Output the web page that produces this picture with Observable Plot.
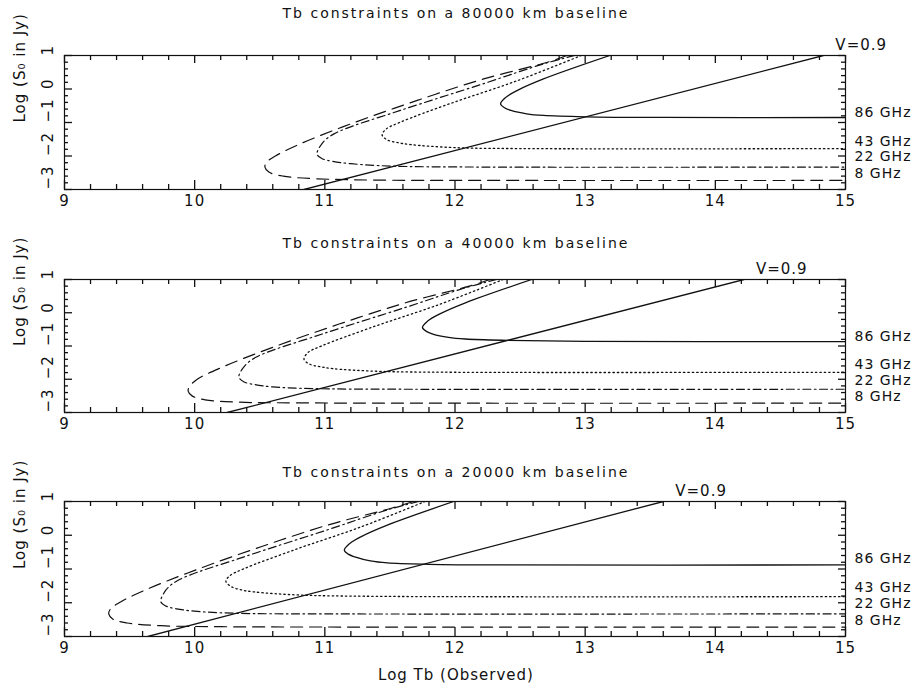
<!DOCTYPE html>
<html><head><meta charset="utf-8">
<script src="https://cdn.jsdelivr.net/npm/d3@7"></script>
<script src="https://cdn.jsdelivr.net/npm/@observablehq/plot@0.6"></script>
<style>
body{margin:0;background:#fff;}
#wrap{position:relative;width:922px;height:700px;font-family:"DejaVu Sans",sans-serif;color:#111;background:#fff;}
.ttl{position:absolute;left:0;width:912px;text-align:center;font-size:14px;letter-spacing:2px;line-height:16px;white-space:nowrap;}
.panel{position:absolute;left:0;}
</style></head><body><div id="wrap"></div>
<script>
const panelTitles = ["Tb constraints on a 80000 km baseline","Tb constraints on a 40000 km baseline","Tb constraints on a 20000 km baseline"];
const xLabel = "Log Tb (Observed)";
const yLabel = "Log (S\u2080 in Jy)";
const freqLabels = ["86 GHz","43 GHz","22 GHz","8 GHz"];
const freqLabelY = [-0.70,-1.56,-2.03,-2.53];
const vLabel = "V=0.9";
const xTicks = [9,10,11,12,13,14,15];
const yTicks = [-3,-2,-1,0,1];

const b80_v = [[10.84,-3.0],[14.83,1.0]];
const b80_86 = [[13.19,1.00],[12.68,0.30],[12.48,-0.04],[12.39,-0.25],[12.35,-0.44],[12.38,-0.56],[12.43,-0.64],[12.55,-0.74],[12.68,-0.79],[13.00,-0.83],[13.60,-0.85],[15.00,-0.85]];
const b80_43 = [[12.97,1.00],[12.48,0.25],[11.96,-0.44],[11.58,-0.99],[11.47,-1.20],[11.44,-1.37],[11.48,-1.52],[11.56,-1.60],[11.66,-1.66],[12.00,-1.75],[12.60,-1.78],[15.00,-1.78]];
const b80_22 = [[12.92,1.00],[12.68,0.75],[12.22,0.16],[11.58,-0.64],[11.07,-1.34],[10.98,-1.62],[10.94,-1.95],[10.98,-2.08],[11.06,-2.16],[11.20,-2.23],[11.50,-2.30],[12.20,-2.33],[15.00,-2.33]];
const b80_8 = [[12.86,1.00],[12.71,0.80],[12.22,0.30],[11.71,-0.34],[11.20,-1.04],[10.81,-1.64],[10.62,-2.00],[10.55,-2.20],[10.54,-2.33],[10.57,-2.48],[10.68,-2.60],[10.94,-2.68],[11.40,-2.72],[12.50,-2.73],[15.00,-2.73]];

const b40_v = [[10.25,-3.0],[14.22,1.0]];
const b40_86 = [[12.59,1.00],[12.08,0.30],[11.88,-0.04],[11.79,-0.25],[11.75,-0.44],[11.78,-0.56],[11.83,-0.64],[11.95,-0.74],[12.08,-0.79],[12.40,-0.83],[13.00,-0.86],[15.00,-0.87]];
const b40_43 = [[12.37,1.00],[11.88,0.25],[11.36,-0.44],[10.98,-0.99],[10.87,-1.20],[10.84,-1.40],[10.88,-1.54],[10.96,-1.62],[11.06,-1.68],[11.40,-1.76],[12.00,-1.79],[15.00,-1.79]];
const b40_22 = [[12.32,1.00],[12.08,0.75],[11.62,0.16],[10.98,-0.64],[10.47,-1.34],[10.38,-1.62],[10.34,-1.93],[10.38,-2.08],[10.46,-2.16],[10.60,-2.23],[10.90,-2.28],[11.60,-2.30],[15.00,-2.30]];
const b40_8 = [[12.27,1.00],[12.11,0.80],[11.62,0.30],[11.11,-0.34],[10.60,-1.04],[10.21,-1.64],[10.02,-2.00],[9.96,-2.22],[9.95,-2.36],[9.98,-2.50],[10.08,-2.62],[10.34,-2.69],[10.80,-2.71],[11.90,-2.72],[15.00,-2.72]];

const b20_v = [[9.64,-3.0],[13.60,1.0]];
const b20_86 = [[11.99,1.00],[11.48,0.30],[11.28,-0.04],[11.19,-0.25],[11.15,-0.44],[11.18,-0.56],[11.23,-0.64],[11.35,-0.76],[11.48,-0.82],[11.80,-0.86],[12.40,-0.88],[15.00,-0.88]];
const b20_43 = [[11.77,1.00],[11.28,0.25],[10.76,-0.44],[10.38,-0.99],[10.27,-1.20],[10.24,-1.37],[10.28,-1.52],[10.36,-1.62],[10.46,-1.68],[10.80,-1.77],[11.40,-1.81],[15.00,-1.82]];
const b20_22 = [[11.72,1.00],[11.48,0.75],[11.02,0.16],[10.38,-0.64],[9.87,-1.34],[9.78,-1.62],[9.74,-1.97],[9.78,-2.10],[9.86,-2.18],[10.00,-2.25],[10.30,-2.31],[11.00,-2.33],[15.00,-2.33]];
const b20_8 = [[11.68,1.00],[11.51,0.80],[11.02,0.30],[10.51,-0.34],[10.00,-1.04],[9.61,-1.64],[9.42,-2.00],[9.35,-2.20],[9.34,-2.33],[9.37,-2.48],[9.48,-2.60],[9.74,-2.68],[10.20,-2.71],[11.30,-2.72],[15.00,-2.72]];

const W = 922, ML = 64, MR = 77;
const X0 = 9, X1 = 15, Y0 = -3, Y1 = 1;
const layout = [
  {top:0,   height:228, mt:55, mb:39, titleY:5},
  {top:228, height:224, mt:51, mb:40, titleY:235},
  {top:452, height:248, mt:49, mb:64, titleY:464}
];
const panelData = [
  {v:b80_v, c86:b80_86, c43:b80_43, c22:b80_22, c8:b80_8},
  {v:b40_v, c86:b40_86, c43:b40_43, c22:b40_22, c8:b40_8},
  {v:b20_v, c86:b20_86, c43:b20_43, c22:b20_22, c8:b20_8}
];
const styles = {
  c86:{dash:null, w:1.3},
  c43:{dash:"1.4,3", w:1.3},
  c22:{dash:"8,3.5,1.6,3.5", w:1.2},
  c8:{dash:"12,7", w:1.2}
};

const minorX = d3.range(9, 15.001, 0.2).filter(v => Math.abs(v - Math.round(v)) > 0.01);
const minorY = d3.range(-3, 1.001, 0.2).filter(v => Math.abs(v - Math.round(v)) > 0.01);

const wrap = document.getElementById("wrap");
const fmt = d => d < 0 ? "\u2212" + (-d) : String(d);

panelData.forEach((pd, i) => {
  const L = layout[i];
  const PH = L.height - L.mt - L.mb;
  const PW = W - ML - MR;
  const ty = px => px * (Y1 - Y0) / PH;
  const tx = px => px * (X1 - X0) / PW;
  const t = document.createElement("div");
  t.className = "ttl"; t.style.top = L.titleY + "px"; t.textContent = panelTitles[i];
  wrap.appendChild(t);

  const xy = {x: d => d[0], y: d => d[1]};
  const marks = [];
  for (const k of ["c8","c22","c43","c86"]) {
    marks.push(Plot.line(pd[k], {...xy, stroke:"#111", strokeWidth:styles[k].w, strokeDasharray:styles[k].dash, curve:"catmull-rom", clip:true}));
  }
  marks.push(Plot.line(pd.v, {...xy, stroke:"#111", strokeWidth:1.3, clip:true}));
  const tk = {stroke:"#111", strokeWidth:1.3};
  marks.push(Plot.ruleX(xTicks, {x: d => d, y1: Y0, y2: Y0 + ty(9), ...tk}));
  marks.push(Plot.ruleX(xTicks, {x: d => d, y1: Y1, y2: Y1 - ty(8), ...tk}));
  marks.push(Plot.ruleX(minorX, {x: d => d, y1: Y0, y2: Y0 + ty(5), ...tk}));
  marks.push(Plot.ruleX(minorX, {x: d => d, y1: Y1, y2: Y1 - ty(5), ...tk}));
  marks.push(Plot.ruleY(yTicks, {y: d => d, x1: X0, x2: X0 + tx(8), ...tk}));
  marks.push(Plot.ruleY(yTicks, {y: d => d, x1: X1, x2: X1 - tx(7), ...tk}));
  marks.push(Plot.ruleY(minorY, {y: d => d, x1: X0, x2: X0 + tx(4), ...tk}));
  marks.push(Plot.ruleY(minorY, {y: d => d, x1: X1, x2: X1 - tx(4), ...tk}));
  marks.push(Plot.frame({stroke:"#111", strokeWidth:1.2}));
  marks.push(Plot.text(xTicks, {x: d => d, text: d => String(d), frameAnchor:"bottom", dy:16, fontSize:15, fill:"#111"}));
  marks.push(Plot.text(yTicks, {y: d => d, text: fmt, frameAnchor:"left", dx:-16, rotate:-90, fontSize:15, fill:"#111"}));
  marks.push(Plot.text([yLabel], {frameAnchor:"left", dx:-44, rotate:-90, fontSize:15, fill:"#111"}));
  marks.push(Plot.text(freqLabels, {y: (d, j) => freqLabelY[j], text: d => d, frameAnchor:"right", dx:9, textAnchor:"start", fontSize:14, fill:"#111"}));
  marks.push(Plot.text([pd.v[pd.v.length - 1]], {...xy, text: () => vLabel, dx:12, dy:-10, textAnchor:"start", fontSize:15, fill:"#111"}));

  const svg = Plot.plot({
    width: W, height: L.height,
    marginTop: L.mt, marginBottom: L.mb, marginLeft: ML, marginRight: MR,
    x: {domain:[X0,X1], axis:null},
    y: {domain:[Y0,Y1], axis:null},
    style: {fontFamily:'"DejaVu Sans", sans-serif', background:"transparent", color:"#111", overflow:"visible", letterSpacing:"1px"},
    marks
  });
  svg.classList.add("panel");
  svg.style.top = L.top + "px";
  wrap.appendChild(svg);
});

const xl = document.createElement("div");
xl.className = "ttl"; xl.style.top = "667px"; xl.style.fontSize = "15px"; xl.style.letterSpacing = "1px";
xl.textContent = xLabel;
wrap.appendChild(xl);
</script></body></html>
